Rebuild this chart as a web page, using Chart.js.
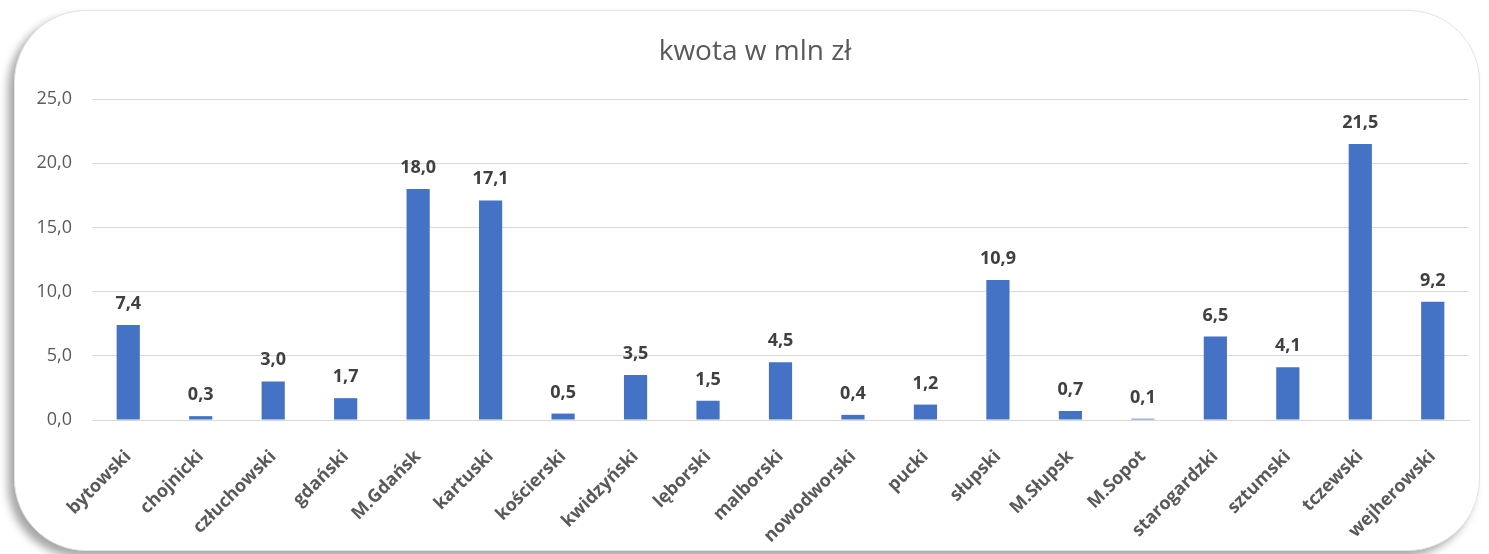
<!DOCTYPE html>
<html>
<head>
<meta charset="utf-8">
<script src="https://cdn.jsdelivr.net/npm/chart.js@4"></script>
<style>
  html, body { margin: 0; padding: 0; background: #fff; width: 1489px; height: 554px; overflow: hidden; }
  .card {
    position: absolute; left: 14px; top: 10px; width: 1464px; height: 539px;
    background: #fff; border: 1px solid #e3e3e3; border-radius: 72px;
    box-shadow: -6px 6px 8px rgba(0,0,0,0.35);
  }
  #wrap { position: absolute; left: 0; top: 0; width: 1489px; height: 554px; }
</style>
</head>
<body>
<div class="card"></div>
<div id="wrap"><canvas id="chart" width="1489" height="554"></canvas></div>
<script>
// data
const categories = ['bytowski','chojnicki','człuchowski','gdański','M.Gdańsk','kartuski','kościerski','kwidzyński','lęborski','malborski','nowodworski','pucki','słupski','M.Słupsk','M.Sopot','starogardzki','sztumski','tczewski','wejherowski'];
const values = [7.4, 0.3, 3.0, 1.7, 18.0, 17.1, 0.5, 3.5, 1.5, 4.5, 0.4, 1.2, 10.9, 0.7, 0.1, 6.5, 4.1, 21.5, 9.2];
const yTicks = [0, 5, 25];
const chartTitle = 'kwota w mln zł';

const FONT = '"Open Sans", "Noto Sans", sans-serif';
const fmt = v => v.toFixed(1).replace('.', ',');

// value labels above the bars + title (title is offset to the right like the original)
const valueLabels = {
  id: 'valueLabels',
  afterDatasetsDraw(chart) {
    const ctx = chart.ctx;
    const meta = chart.getDatasetMeta(0);
    ctx.save();
    ctx.font = 'bold 18px ' + FONT;
    ctx.fillStyle = '#404040';
    ctx.textAlign = 'center';
    ctx.textBaseline = 'alphabetic';
    meta.data.forEach((bar, i) => {
      ctx.fillText(fmt(values[i]), bar.x, bar.y - 16);
    });
    ctx.font = '28px ' + FONT;
    ctx.fillStyle = '#595959';
    ctx.fillText(chartTitle, 755, 60);
    ctx.restore();
  }
};

new Chart(document.getElementById('chart').getContext('2d'), {
  type: 'bar',
  data: {
    labels: categories,
    datasets: [{
      label: chartTitle,
      data: values,
      backgroundColor: '#4472C4',
      borderWidth: 0,
      barPercentage: 0.32,
      categoryPercentage: 1
    }]
  },
  options: {
    responsive: false,
    animation: false,
    devicePixelRatio: 1,
    layout: { padding: { left: 0, right: 20, top: 99, bottom: 0 } },
    plugins: {
      legend: { display: false },
      tooltip: { enabled: false },
      title: { display: false }
    },
    scales: {
      x: {
        grid: { display: false, drawTicks: false },
        border: { color: '#d9d9d9', width: 1 },
        ticks: {
          color: '#595959',
          font: { family: FONT, size: 18, weight: 'bold' },
          minRotation: 45, maxRotation: 45,
          padding: 26,
          autoSkip: false
        },
        afterFit: s => { s.height = 134; }
      },
      y: {
        min: yTicks[0],
        max: yTicks[2],
        grid: { color: '#d9d9d9', lineWidth: 1, drawTicks: false },
        border: { display: false },
        ticks: {
          stepSize: yTicks[1],
          color: '#595959',
          font: { family: FONT, size: 18 },
          padding: 20,
          callback: v => fmt(v)
        },
        afterFit: s => { s.width = 92; }
      }
    }
  },
  plugins: [valueLabels]
});
</script>
</body>
</html>
